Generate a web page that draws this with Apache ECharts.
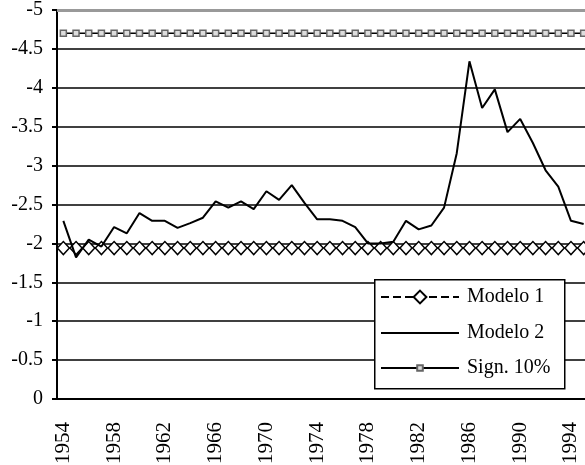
<!DOCTYPE html>
<html>
<head>
<meta charset="utf-8">
<script src="https://cdn.jsdelivr.net/npm/echarts@6/dist/echarts.min.js"></script>
<style>
  html, body { margin: 0; padding: 0; background: #fff; }
  #chart { width: 585px; height: 465px; }
</style>
</head>
<body>
<div id="chart"></div>
<script>
// years on the x axis
const years = []
for (let y = 1954; y <= 1995; y++) years.push(String(y))

// Modelo 2 test statistic
const modelo2 = [
  -2.29, -1.82, -2.05, -1.96, -2.21, -2.13, -2.39, -2.29, -2.29, -2.20,
  -2.26, -2.33, -2.54, -2.46, -2.54, -2.44, -2.67, -2.56, -2.75, -2.52,
  -2.31, -2.31, -2.29, -2.21, -2.00, -2.00, -2.02, -2.29, -2.18, -2.23,
  -2.46, -3.16, -4.34, -3.74, -3.98, -3.43, -3.60, -3.29, -2.94, -2.73,
  -2.29, -2.25
]
// constant levels
const modelo1Level = -1.94
const signLevel = -4.70
const modelo1 = years.map(() => modelo1Level)
const sign10 = years.map(() => signLevel)

const font = 'Liberation Serif, Times New Roman, serif'
const chart = echarts.init(document.getElementById('chart'))

// one legend per row so each symbol can have its own size
function legendRow(name, top, itemHeight, itemStyle) {
  return {
    orient: 'vertical',
    left: 380,
    top: top,
    padding: 0,
    itemWidth: 78,
    itemHeight: itemHeight,
    selectedMode: false,
    textStyle: { fontFamily: font, fontSize: 20, color: '#000', padding: [0, 0, 0, 3] },
    data: [itemStyle ? { name: name, itemStyle: itemStyle } : name]
  }
}

chart.setOption({
  animation: false,
  backgroundColor: '#fff',
  grid: { left: 57, top: 10, width: 533, bottom: 66, containLabel: false, outerBoundsMode: 'none' },
  graphic: [{
    type: 'rect',
    left: 374, top: 279, z: 3,
    shape: { width: 190, height: 109 },
    style: { fill: '#fff', stroke: '#000', lineWidth: 1.5 }
  }],
  legend: [
    legendRow('Modelo 1', 287, 16),
    legendRow('Modelo 2', 323, 14, { opacity: 0 }),
    legendRow('Sign. 10%', 358, 7)
  ],
  xAxis: {
    type: 'category',
    data: years,
    axisLine: { lineStyle: { color: '#000', width: 2 } },
    axisTick: { interval: 0, length: 6, lineStyle: { color: '#000', width: 2 } },
    axisLabel: {
      interval: 3, rotate: 90, margin: 23,
      fontFamily: font, fontSize: 21, color: '#000'
    },
    splitLine: { show: false }
  },
  yAxis: {
    type: 'value',
    inverse: true,
    min: -5, max: 0, interval: 0.5,
    axisLine: { show: true, lineStyle: { color: '#000', width: 2 } },
    axisTick: { show: true, length: 5, lineStyle: { color: '#000', width: 2 } },
    axisLabel: { margin: 14, fontFamily: font, fontSize: 20, color: '#000' },
    splitLine: { lineStyle: { color: '#000', width: 1.5 } }
  },
  series: [
    {
      name: 'Modelo 1',
      type: 'line',
      data: modelo1,
      symbol: 'diamond',
      symbolSize: [12, 13],
      showAllSymbol: true,
      lineStyle: { color: '#000', width: 1.5, type: 'dashed' },
      itemStyle: { color: '#fff', borderColor: '#000', borderWidth: 1.5 },
      z: 3
    },
    {
      name: 'Modelo 2',
      type: 'line',
      data: modelo2,
      symbol: 'none',
      lineStyle: { color: '#000', width: 2 },
      itemStyle: { color: '#000' },
      z: 4
    },
    {
      name: 'Sign. 10%',
      type: 'line',
      data: sign10,
      symbol: 'rect',
      symbolSize: 6,
      showAllSymbol: true,
      lineStyle: { color: '#000', width: 1.5 },
      itemStyle: { color: '#ddd', borderColor: '#666', borderWidth: 1.5 },
      markLine: {
        silent: true,
        symbol: 'none',
        label: { show: false },
        lineStyle: { color: '#999', width: 3, type: 'solid' },
        data: [{ yAxis: -5 }]
      },
      z: 3
    }
  ]
})
</script>
</body>
</html>
